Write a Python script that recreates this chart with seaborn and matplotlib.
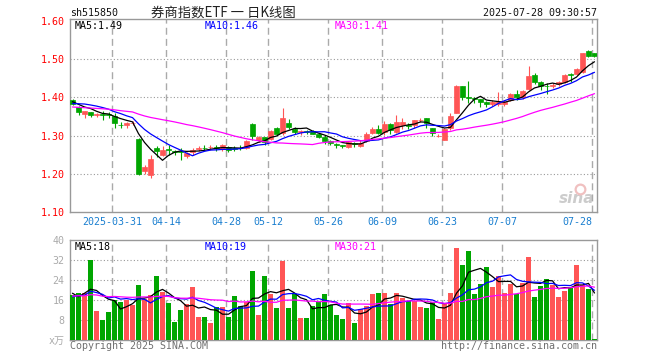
import matplotlib
matplotlib.use("Agg")
import matplotlib.pyplot as plt
import seaborn as sns
import pandas as pd
import numpy as np

# 515850 daily K, 88 trading days 2025-03-20 .. 2025-07-28
opens = [1.393, 1.375, 1.357, 1.362, 1.354, 1.356, 1.357, 1.351, 1.329, 1.329,
         1.333, 1.292, 1.207, 1.196, 1.267, 1.248, 1.264, 1.260, 1.259, 1.246,
         1.257, 1.265, 1.268, 1.269, 1.269, 1.265, 1.271, 1.266, 1.268, 1.268,
         1.331, 1.288, 1.295, 1.290, 1.321, 1.307, 1.334, 1.316, 1.310, 1.312,
         1.311, 1.305, 1.296, 1.285, 1.278, 1.275, 1.270, 1.280, 1.273, 1.286,
         1.308, 1.318, 1.310, 1.330, 1.310, 1.327, 1.327, 1.327, 1.341, 1.345,
         1.321, 1.299, 1.289, 1.321, 1.360, 1.430, 1.401, 1.399, 1.395, 1.388,
         1.384, 1.384, 1.384, 1.393, 1.408, 1.400, 1.422, 1.459, 1.441, 1.431,
         1.430, 1.435, 1.441, 1.462, 1.462, 1.468, 1.522, 1.516]
highs = [1.395, 1.377, 1.365, 1.363, 1.360, 1.365, 1.362, 1.358, 1.336, 1.336,
         1.338, 1.293, 1.222, 1.248, 1.272, 1.272, 1.276, 1.263, 1.266, 1.257,
         1.266, 1.272, 1.274, 1.276, 1.274, 1.279, 1.272, 1.272, 1.274, 1.288,
         1.333, 1.300, 1.297, 1.314, 1.323, 1.373, 1.343, 1.323, 1.314, 1.314,
         1.314, 1.308, 1.301, 1.288, 1.280, 1.276, 1.285, 1.282, 1.287, 1.310,
         1.323, 1.327, 1.339, 1.332, 1.354, 1.345, 1.332, 1.342, 1.347, 1.347,
         1.321, 1.305, 1.321, 1.360, 1.432, 1.430, 1.443, 1.402, 1.397, 1.390,
         1.393, 1.415, 1.393, 1.411, 1.419, 1.420, 1.482, 1.463, 1.444, 1.437,
         1.439, 1.443, 1.462, 1.463, 1.477, 1.516, 1.525, 1.518]
lows = [1.380, 1.355, 1.345, 1.349, 1.349, 1.342, 1.347, 1.320, 1.320, 1.320,
        1.327, 1.196, 1.200, 1.189, 1.244, 1.246, 1.248, 1.248, 1.237, 1.242,
        1.248, 1.260, 1.261, 1.261, 1.259, 1.259, 1.257, 1.260, 1.263, 1.264,
        1.288, 1.282, 1.275, 1.288, 1.301, 1.301, 1.317, 1.305, 1.301, 1.305,
        1.304, 1.294, 1.279, 1.276, 1.268, 1.268, 1.268, 1.270, 1.271, 1.284,
        1.303, 1.303, 1.301, 1.303, 1.307, 1.318, 1.318, 1.321, 1.336, 1.321,
        1.298, 1.296, 1.288, 1.314, 1.358, 1.393, 1.386, 1.386, 1.375, 1.374,
        1.378, 1.377, 1.377, 1.391, 1.393, 1.397, 1.420, 1.436, 1.420, 1.410,
        1.425, 1.430, 1.439, 1.441, 1.459, 1.465, 1.505, 1.505]
closes = [1.382, 1.362, 1.364, 1.355, 1.356, 1.354, 1.354, 1.332, 1.327, 1.333,
          1.334, 1.199, 1.217, 1.238, 1.260, 1.261, 1.263, 1.258, 1.256, 1.254,
          1.263, 1.266, 1.267, 1.270, 1.266, 1.274, 1.263, 1.265, 1.267, 1.285,
          1.298, 1.297, 1.283, 1.312, 1.303, 1.345, 1.323, 1.310, 1.311, 1.310,
          1.305, 1.296, 1.285, 1.280, 1.275, 1.272, 1.283, 1.279, 1.281, 1.305,
          1.318, 1.308, 1.330, 1.314, 1.336, 1.336, 1.325, 1.340, 1.342, 1.332,
          1.307, 1.300, 1.318, 1.351, 1.431, 1.400, 1.399, 1.397, 1.388, 1.382,
          1.389, 1.390, 1.388, 1.408, 1.402, 1.418, 1.457, 1.440, 1.429, 1.429,
          1.434, 1.441, 1.459, 1.460, 1.474, 1.516, 1.509, 1.510]
# volume in 万手
volumes = [17.9, 18.8, 18.8, 32.0, 11.6, 8.0, 11.2, 16.0, 15.2, 16.2,
           14.0, 22.0, 16.4, 18.0, 25.6, 19.2, 14.8, 7.2, 12.0, 14.4,
           21.2, 9.2, 9.2, 6.8, 13.2, 13.2, 9.2, 17.6, 13.6, 15.2,
           27.6, 10.0, 25.6, 18.4, 12.8, 31.7, 12.8, 18.4, 8.8, 8.8,
           13.6, 15.2, 18.4, 14.0, 10.0, 8.4, 14.8, 6.8, 12.4, 13.6,
           18.4, 18.8, 18.8, 14.4, 18.8, 16.8, 15.6, 15.6, 13.2, 12.8,
           15.2, 8.4, 14.4, 18.8, 36.8, 30.0, 35.6, 18.4, 22.4, 29.2,
           21.2, 25.6, 18.8, 22.4, 18.4, 22.8, 33.2, 17.2, 21.6, 24.4,
           22.0, 17.2, 19.6, 21.2, 30.0, 22.0, 20.4, 0.4]

# days before the window, estimated from where the MA lines start
prior_close = [1.392, 1.388, 1.383, 1.386, 1.381, 1.389, 1.384, 1.390, 1.385, 1.383,
               1.370, 1.362, 1.355, 1.348, 1.352, 1.345, 1.350, 1.356, 1.362, 1.349,
               1.366, 1.372, 1.380, 1.385, 1.392, 1.397, 1.399, 1.375, 1.392]
prior_volume = [16, 20, 18, 15, 22, 17, 14, 19, 21, 16,
                18, 15, 20, 17, 19, 16, 22, 18, 15, 17,
                14, 18, 15.5, 17, 15, 25.8, 11.8, 24, 14]

tick_idx = [7, 16, 26, 33, 43, 52, 62, 72, 87]
tick_labels = ["2025-03-31", "04-14", "04-28", "05-12", "05-26",
               "06-09", "06-23", "07-07", "07-28"]
price_ticks = [1.10, 1.20, 1.30, 1.40, 1.50, 1.60]
vol_ticks = [0, 8, 16, 24, 32, 40]
vol_tick_labels = ["x万", "8", "16", "24", "32", "40"]
price_ma_labels = ["MA5:1.49", "MA10:1.46", "MA30:1.41"]
vol_ma_labels = ["MA5:18", "MA10:19", "MA30:21"]
ma_colors = ["black", "#0000ff", "#ff00ff"]

RED = "#ff5555"
GREEN = "#00a600"

sns.set_style("white")
plt.rcParams["font.family"] = ["DejaVu Sans Mono", "Noto Sans CJK SC"]

n = len(closes)
x = np.arange(n)
o = np.array(opens)
c = np.array(closes)
up = c >= o
colors = np.where(up, RED, GREEN)

close_all = pd.Series(prior_close + closes)
vol_all = pd.Series(prior_volume + volumes)
price_ma = [close_all.rolling(w).mean().iloc[-n:].to_numpy() for w in (5, 10, 30)]
vol_ma = [vol_all.rolling(w).mean().iloc[-n:].to_numpy() for w in (5, 10, 30)]

W, H = 660, 360
fig = plt.figure(figsize=(6.6, 3.6), dpi=100)
ax = fig.add_axes([70 / W, 1 - 211.7 / H, 527 / W, 192.4 / H])
axv = fig.add_axes([70 / W, 1 - 340 / H, 527 / W, 100 / H])

xlim = (-2.5 / 6, (597 - 72.5) / 6)
grid_x = np.array(tick_idx) - 2.5 / 6

# candles
ax.vlines(x, lows, highs, colors=colors, lw=0.8, zorder=3)
ax.bar(x, np.abs(c - o), bottom=np.minimum(o, c), width=0.75, color=colors,
       edgecolor=colors, linewidth=0.5, zorder=4)
for ma, col in zip(price_ma, ma_colors):
    sns.lineplot(x=x, y=ma, ax=ax, color=col, lw=0.9, zorder=5)

# volume bars
vdf = pd.DataFrame({"x": x, "vol": volumes, "dir": np.where(up, "up", "down")})
sns.barplot(data=vdf, x="x", y="vol", hue="dir", palette={"up": RED, "down": GREEN},
            native_scale=True, dodge=False, legend=False, width=0.84,
            saturation=1, linewidth=0, ax=axv, zorder=3)
for ma, col in zip(vol_ma, ma_colors):
    sns.lineplot(x=x, y=ma, ax=axv, color=col, lw=0.9, zorder=5)

for a, yl, hgrid in ((ax, (1.10, 1.6053), [1.2, 1.3, 1.4, 1.5]),
                     (axv, (0, 40), [8, 16, 24, 32])):
    a.set_xlim(*xlim)
    a.set_ylim(*yl)
    for gx in grid_x:
        a.axvline(gx, color="#aaaaaa", lw=1, ls=(0, (5, 3)), zorder=1)
    for gy in hgrid:
        a.axhline(gy, color="#999999", lw=0.8, ls=(0, (1, 2)), zorder=1)
    for s in a.spines.values():
        s.set_color("#999999")
        s.set_linewidth(1)
    a.set_xlabel("")
    a.set_ylabel("")
    a.tick_params(length=0)

ax.set_xticks(grid_x)
ax.set_xticklabels(tick_labels, color="#1a7fd0", fontsize=7.2)
ax.get_xticklabels()[-1].set_ha("right")
ax.tick_params(axis="x", pad=4)
ax.set_yticks(price_ticks)
ax.set_yticklabels([f"{t:.2f}" for t in price_ticks], color="#ff0000", fontsize=7.2)
ax.tick_params(axis="y", pad=4)

axv.set_xticks([])
axv.set_yticks(vol_ticks)
axv.set_yticklabels(vol_tick_labels, color="#aaaaaa", fontsize=7.2)
axv.tick_params(axis="y", pad=4)

# MA legends
for i, (lab, col) in enumerate(zip(price_ma_labels, ma_colors)):
    fig.text((75 + 130 * i) / W, 1 - 26 / H, lab, color=col, fontsize=7.2, va="center")
for i, (lab, col) in enumerate(zip(vol_ma_labels, ma_colors)):
    fig.text((75 + 130 * i) / W, 1 - 246.5 / H, lab, color=col, fontsize=7.2, va="center")

# header
fig.text(70 / W, 1 - 13 / H, "sh515850", fontsize=7.2, va="center", color="#111111")
fig.text(223 / W, 1 - 13 / H, "券商指数ETF 一 日K线图", fontsize=9.6, ha="center",
         va="center", color="#222222", family=["Noto Sans CJK SC", "DejaVu Sans"])
fig.text(597 / W, 1 - 13 / H, "2025-07-28 09:30:57", fontsize=7.2, ha="right",
         va="center", color="#111111")

# footer
fig.text(70 / W, 1 - 346 / H, "Copyright 2025 SINA.COM", fontsize=7.2,
         va="center", color="#707070")
fig.text(597 / W, 1 - 346 / H, "http://finance.sina.com.cn", fontsize=7.2,
         ha="right", va="center", color="#707070")

# watermark
ax.text(0.995, 0.03, "sina", transform=ax.transAxes, ha="right", va="bottom",
        fontsize=11, fontweight="bold", fontstyle="italic", color="#cccccc",
        family="DejaVu Sans", zorder=0)
ax.plot([0.968], [0.12], transform=ax.transAxes, marker="o", ms=7,
        mfc="none", mec="#f0c0c0", mew=1.6, zorder=0)

fig.savefig("out.png", dpi=100)
